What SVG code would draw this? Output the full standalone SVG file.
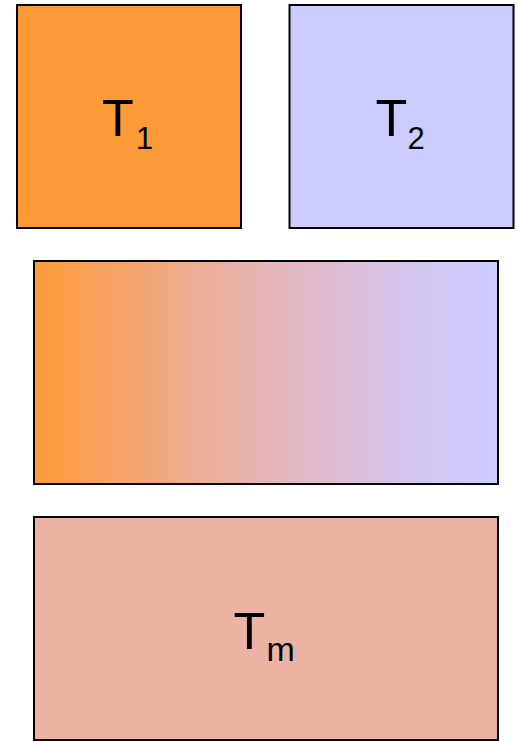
<svg xmlns="http://www.w3.org/2000/svg" width="518" height="741" viewBox="0 0 518 741">
<defs>
<linearGradient id="mix" x1="0" y1="0" x2="1" y2="0">
<stop offset="0" stop-color="#FD9A38"/>
<stop offset="0.2" stop-color="#F6A46C"/>
<stop offset="0.5" stop-color="#E5B5B9"/>
<stop offset="0.8" stop-color="#D4C5EC"/>
<stop offset="1" stop-color="#CCCCFF"/>
</linearGradient>
</defs>
<style>
.box { stroke: #000; stroke-width: 2; }
text { font-family: "Liberation Sans", Arial, sans-serif; fill: #000; }
.big { font-size: 52px; }
.sub { font-size: 31px; }
.subm { font-size: 34px; }
</style>
<g id="t1">
<rect class="box" x="17" y="5" width="224" height="223" fill="#FD9A38"/>
<text class="big" x="102" y="136">T</text>
<text class="sub" x="136" y="149.3">1</text>
</g>
<g id="t2">
<rect class="box" x="289.5" y="5" width="224" height="223" fill="#CCCCFF"/>
<text class="big" x="375.5" y="136">T</text>
<text class="sub" x="407.5" y="149.3">2</text>
</g>
<g id="mixbox">
<rect class="box" x="34" y="261" width="464" height="223" fill="url(#mix)"/>
</g>
<g id="tm">
<rect class="box" x="34" y="517" width="464" height="223" fill="#ECB3A4"/>
<text class="big" x="233.5" y="648.7">T</text>
<text class="subm" x="266.5" y="661.3">m</text>
</g>
<g id="connectors"/>
</svg>
